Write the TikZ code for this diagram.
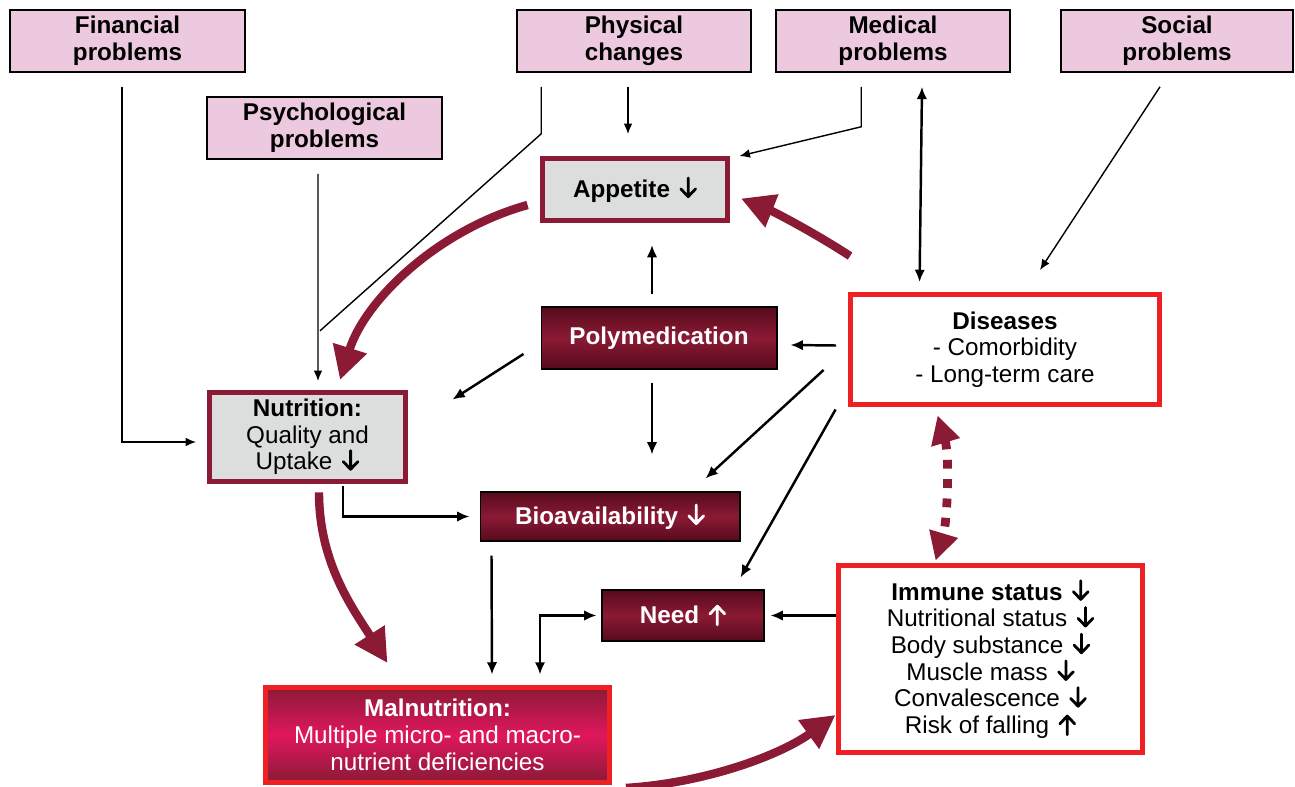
\documentclass[tikz,border=0pt]{standalone}
\usepackage{fontspec}
\setmainfont{Liberation Sans}
\usetikzlibrary{arrows.meta,calc}
\newcommand{\dn}{\hspace{1.5pt}\tikz[baseline=0pt,x=1pt,y=1pt]{\draw[line width=1.6pt,line cap=round,line join=round] (5,11) -- (5,0.4) (0.8,4.8) -- (5,0.4) -- (9.2,4.8);}}
\newcommand{\upa}{\hspace{1.5pt}\tikz[baseline=0pt,x=1pt,y=1pt]{\draw[line width=1.6pt,line cap=round,line join=round] (5,-0.6) -- (5,10) (0.8,5.6) -- (5,10) -- (9.2,5.6);}}
\definecolor{maroon}{HTML}{8B1A35}
\definecolor{dmaroon}{HTML}{560A1B}
\definecolor{pinkfill}{HTML}{EDC9E0}
\definecolor{grayfill}{HTML}{DCDDDD}
\definecolor{redb}{HTML}{EE2024}
\definecolor{hotpink}{HTML}{E0175E}
\begin{document}
\begin{tikzpicture}[x=0.02cm,y=-0.02cm,
  txt/.style={font=\fontsize{13.8}{15.2}\selectfont, align=center, inner sep=0pt},
  probbox/.style={txt, draw=black, line width=0.9pt, fill=pinkfill, font=\fontsize{13.8}{15.2}\selectfont\bfseries},
  graybox/.style={txt, draw=maroon, line width=2.8pt, fill=grayfill},
  darkbox/.style={txt, draw=black, line width=0.6pt, top color=dmaroon, bottom color=dmaroon, middle color=maroon, text=white, font=\fontsize{13.8}{15.2}\selectfont\bfseries},
  redbox/.style={txt, draw=redb, line width=2.8pt, fill=white},
  thinarrow/.style={line width=0.8pt, -{Latex[length=6pt,width=5pt]}},
  thinline/.style={line width=0.8pt},
  midarrow/.style={line width=1.4pt, -{Latex[length=7pt,width=6pt]}},
  dblarrow/.style={line width=1.4pt, {Latex[length=7pt,width=6pt]}-{Latex[length=7pt,width=6pt]}},
  bigarrow/.style={draw=maroon, line width=4.8pt, -{Triangle[length=19pt,width=19pt]}},
  dotarrow/.style={draw=maroon, line width=5pt, dash pattern=on 5pt off 6pt, {Triangle[length=16pt,width=16pt]}-{Triangle[length=16pt,width=16pt]}},
]
\useasboundingbox (0,0) rectangle (1295,787);

% top problem boxes
\node[probbox, minimum width=4.7cm, minimum height=1.24cm] (fin) at (127.5,41) {Financial\\problems};
\node[probbox, minimum width=4.7cm, minimum height=1.24cm] (psy) at (324.5,128) {Psychological\\problems};
\node[probbox, minimum width=4.68cm, minimum height=1.24cm] (phys) at (634,41) {Physical\\changes};
\node[probbox, minimum width=4.68cm, minimum height=1.24cm] (med) at (893,41) {Medical\\problems};
\node[probbox, minimum width=4.64cm, minimum height=1.24cm] (soc) at (1177,41) {Social\\problems};

% central boxes
\node[graybox, minimum width=3.7cm, minimum height=1.24cm, font=\fontsize{13.8}{15.2}\selectfont\bfseries] (app) at (635,189.5) {Appetite \dn};
\node[darkbox, minimum width=4.72cm, minimum height=1.24cm] (poly) at (659,338) {Polymedication};
\node[redbox, minimum width=6.18cm, minimum height=2.2cm] (dis) at (1005,349.5) {\textbf{Diseases}\\- Comorbidity\\- Long-term care};
\node[graybox, minimum width=3.92cm, minimum height=1.78cm] (nut) at (307.5,437) {\textbf{Nutrition:}\\Quality and\\Uptake \dn};
\node[darkbox, minimum width=5.2cm, minimum height=0.98cm] (bio) at (610,516.5) {Bioavailability \dn};
\node[darkbox, minimum width=3.24cm, minimum height=1.02cm] (need) at (683,615.5) {Need \upa};
\node[txt, draw=redb, line width=2.8pt, top color=maroon, bottom color=maroon, middle color=hotpink, text=white, minimum width=6.88cm, minimum height=1.9cm] (mal) at (437.5,735) {\textbf{Malnutrition:}\\Multiple micro- and macro-\\nutrient deficiencies};
\node[redbox, minimum width=6.08cm, minimum height=3.74cm] (imm) at (990.5,659) {\textbf{Immune status \dn}\\Nutritional status \dn\\Body substance \dn\\Muscle mass \dn\\Convalescence \dn\\Risk of falling \upa};

% thin connectors from the problem boxes
\draw[thinarrow] ($(fin.south)+(-5.5,14)$) |- ($(nut.west)+(-11,5)$);
\draw[thinarrow] ($(psy.south)+(-6.5,14)$) -- ($(nut.north)+(10.5,-9)$);
\coordinate (join) at ($(psy.south)+(-4.5,171)$);
\draw[thinline] ($(phys.south west)+(25,14)$) -- ++(0,47) -- (join);
\draw[thinarrow] ($(phys.south)+(-6,14)$) -- ($(app.north)+(-7,-22)$);
\draw[thinarrow] ($(med.south west)+(86,14)$) -- ++(0,40) -- ($(app.north east)+(9.5,0)$);
\draw[dblarrow] ($(med.south)+(29,14)$) -- ($(dis.north west)+(71.5,-10)$);
\draw[thinarrow] ($(soc.south)+(-17,14)$) -- ($(dis.north)+(35,-22)$);

% central black connectors
\draw[midarrow] ($(poly.north)+(-7,-12)$) -- ($(app.south)+(17,22)$);
\draw[midarrow] ($(dis.west)+(-12,-4)$) -- ($(poly.east)+(13,7)$);
\draw[midarrow] ($(poly.west)+(-17,16)$) -- ($(nut.north east)+(44.5,9.5)$);
\draw[midarrow] ($(poly.south)+(-7,13)$) -- ($(bio.north)+(42,-37)$);
\draw[midarrow] ($(dis.west)+(-24.5,20.5)$) -- ($(bio.north east)+(-35,-13)$);
\draw[midarrow] ($(dis.south west)+(-12.5,2.5)$) -- ($(need.north east)+(-24,-12)$);
\draw[midarrow] ($(nut.south)+(35.5,2)$) |- ($(bio.west)+(-10,0)$);
\draw[midarrow] ($(bio.south west)+(12,14)$) -- ($(mal.north)+(54.5,-10.5)$);
\draw[dblarrow] ($(mal.north)+(102.5,-10.5)$) |- ($(need.west)+(-5,0)$);
\draw[midarrow] (imm.west |- need.east) -- ($(need.east)+(6,0)$);

% thick maroon cycle arrows
\draw[bigarrow] ($(dis.north west)+(2,-36)$) .. controls +(-40,-26) and +(30,12) .. ($(app.east)+(11,9)$);
\draw[bigarrow] ($(app.west)+(-12.5,15.5)$) .. controls +(-90,25) and +(25,-80) .. ($(nut.north)+(32.5,-10)$);
\draw[bigarrow] ($(nut.south)+(11.5,8.5)$) .. controls +(0,70) and +(-35,-55) .. ($(mal.north)+(-50,-22)$);
\draw[bigarrow] ($(mal.south east)+(14,3)$) .. controls +(80,-5) and +(-55,40) .. ($(imm.south west)+(-0.5,-40)$);
\draw[dotarrow] ($(dis.south west)+(89.5,8.5)$) .. controls +(12,40) and +(12,-40) .. ($(imm.north west)+(99.5,-2.5)$);
\end{tikzpicture}
\end{document}
